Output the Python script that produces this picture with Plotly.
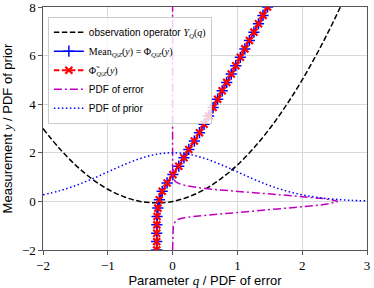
import plotly.graph_objects as go

# observation operator Y_Q(q)
obs_q = [-2.0, -1.75, -1.5, -1.25, -1.0, -0.75, -0.5, -0.25, 0.0, 0.25, 0.5, 0.75,
         1.0, 1.25, 1.5, 1.75, 2.0, 2.25, 2.5, 2.75]
obs_y = [3.0, 2.19, 1.5, 0.94, 0.5, 0.19, 0.0, -0.06, 0.0, 0.19, 0.5, 0.94,
         1.5, 2.19, 3.0, 3.94, 5.0, 6.19, 7.5, 8.94]

# conditional mean / Phi (same samples for Phi tilde)
mean_y = [-2.0, -1.655, -1.31, -0.966, -0.621, -0.276, 0.069, 0.414, 0.759, 1.103,
          1.448, 1.793, 2.138, 2.483, 2.828, 3.172, 3.517, 3.862, 4.207, 4.552,
          4.897, 5.241, 5.586, 5.931, 6.276, 6.621, 6.966, 7.310, 7.655, 8.0]
mean_q = [-0.245, -0.245, -0.245, -0.243, -0.240, -0.228, -0.205, -0.160, -0.085, 0.005,
          0.095, 0.175, 0.250, 0.335, 0.415, 0.485, 0.555, 0.625, 0.695, 0.765,
          0.835, 0.905, 0.975, 1.045, 1.115, 1.185, 1.255, 1.325, 1.395, 1.465]
tilde_q = mean_q

# PDF of error (plotted as x = pdf, y = error value)
err_y = [-2.0, -1.5, -1.2, -1.05, -0.9, -0.8, -0.72, -0.66, -0.6, -0.53, -0.48, -0.37,
         -0.26, -0.16, -0.1, -0.04, 0.0, 0.04, 0.11, 0.21, 0.32, 0.42, 0.5, 0.56,
         0.64, 0.72, 0.8, 0.9, 1.0, 1.2, 1.5, 8.0]
err_pdf = [0.0, 0.0, 0.003, 0.01, 0.025, 0.05, 0.1, 0.2, 0.4, 0.7, 0.91, 1.43,
           1.94, 2.25, 2.4, 2.5, 2.55, 2.5, 2.35, 1.94, 1.43, 0.91, 0.6, 0.42,
           0.22, 0.11, 0.05, 0.02, 0.008, 0.002, 0.0, 0.0]

# PDF of prior
prior_q = [-2.0, -1.75, -1.5, -1.25, -1.0, -0.75, -0.5, -0.25, 0.0, 0.25, 0.5, 0.75,
           1.0, 1.25, 1.5, 1.75, 2.0, 2.25, 2.5, 2.75, 3.0]
prior_pdf = [0.271, 0.432, 0.649, 0.916, 1.213, 1.509, 1.765, 1.939, 2.0, 1.939, 1.765, 1.509,
             1.213, 0.916, 0.649, 0.432, 0.271, 0.159, 0.088, 0.045, 0.022]

x_ticks = [-2, -1, 0, 1, 2, 3]
y_ticks = [-2, 0, 2, 4, 6, 8]

SERIF = "Liberation Serif"
SANS = "Liberation Sans"
M = "<span style='font-family:%s'>" % SERIF

fig = go.Figure()
fig.add_trace(go.Scatter(
    x=obs_q, y=obs_y, mode="lines", line_shape="spline",
    line=dict(color="black", width=1.5, dash="5.5px,2.5px"),
    name="observation operator " + M + "<i>Y</i><sub><i>Q</i></sub>(<i>q</i>)</span>"))
fig.add_trace(go.Scatter(
    x=mean_q, y=mean_y, mode="lines+markers",
    line=dict(color="#0000ff", width=1.5),
    marker=dict(symbol="cross-thin", size=8, line=dict(color="#0000ff", width=1.5)),
    name=M + "Mean<sub><i>Q</i>|<i>Z</i></sub>(<i>y</i>) = Φ<sub><i>Q</i>|<i>Z</i></sub>(<i>y</i>)</span>"))
fig.add_trace(go.Scatter(
    x=tilde_q, y=mean_y, mode="lines+markers",
    line=dict(color="#ff0000", width=2, dash="5.5px,2.5px"),
    marker=dict(symbol="x-thin", size=7, line=dict(color="#ff0000", width=2.2)),
    name=M + "Φ\u0303<sub><i>Q</i>|<i>Z</i></sub>(<i>y</i>)</span>"))
fig.add_trace(go.Scatter(
    x=err_pdf, y=err_y, mode="lines",
    line=dict(color="#bf00bf", width=1.5, dash="8px,3px,2px,3px"),
    name="PDF of error"))
fig.add_trace(go.Scatter(
    x=prior_q, y=prior_pdf, mode="lines", line_shape="spline",
    line=dict(color="#0000ff", width=1.5, dash="1.5px,2.5px"),
    name="PDF of prior"))

axis_common = dict(
    showline=True, linecolor="#555555", linewidth=1.2, mirror=True,
    showgrid=True, gridcolor="#d8d8d8", gridwidth=1,
    zeroline=False, ticks="outside", ticklen=3.5, tickwidth=1, tickcolor="#555555",
    tickfont=dict(family=SERIF, size=13, color="black"),
    ticklabeloverflow="allow",
)

fig.update_xaxes(range=[-2, 3], tickvals=x_ticks,
                 title=dict(text="Parameter " + M + "<i>q</i></span> / PDF of error",
                            font=dict(family=SANS, size=13, color="black"), standoff=4),
                 **axis_common)
fig.update_yaxes(range=[-2, 8], tickvals=y_ticks,
                 title=dict(text="Measurement " + M + "<i>y</i></span> / PDF of prior",
                            font=dict(family=SANS, size=13, color="black"), standoff=6),
                 **axis_common)

fig.update_layout(
    width=374, height=288,
    margin=dict(l=43, r=7, t=7, b=38, autoexpand=False),
    plot_bgcolor="white", paper_bgcolor="white",
    legend=dict(x=0.015, y=0.96, xanchor="left", yanchor="top",
                bgcolor="rgba(255,255,255,0.8)", bordercolor="#cccccc", borderwidth=1,
                font=dict(family=SANS, size=10, color="black"),
                tracegroupgap=0, itemwidth=30),
    showlegend=True,
)

fig.write_html("out.html", config={"displayModeBar": False},
               post_script="document.body.style.margin='0';document.body.style.padding='0';")
